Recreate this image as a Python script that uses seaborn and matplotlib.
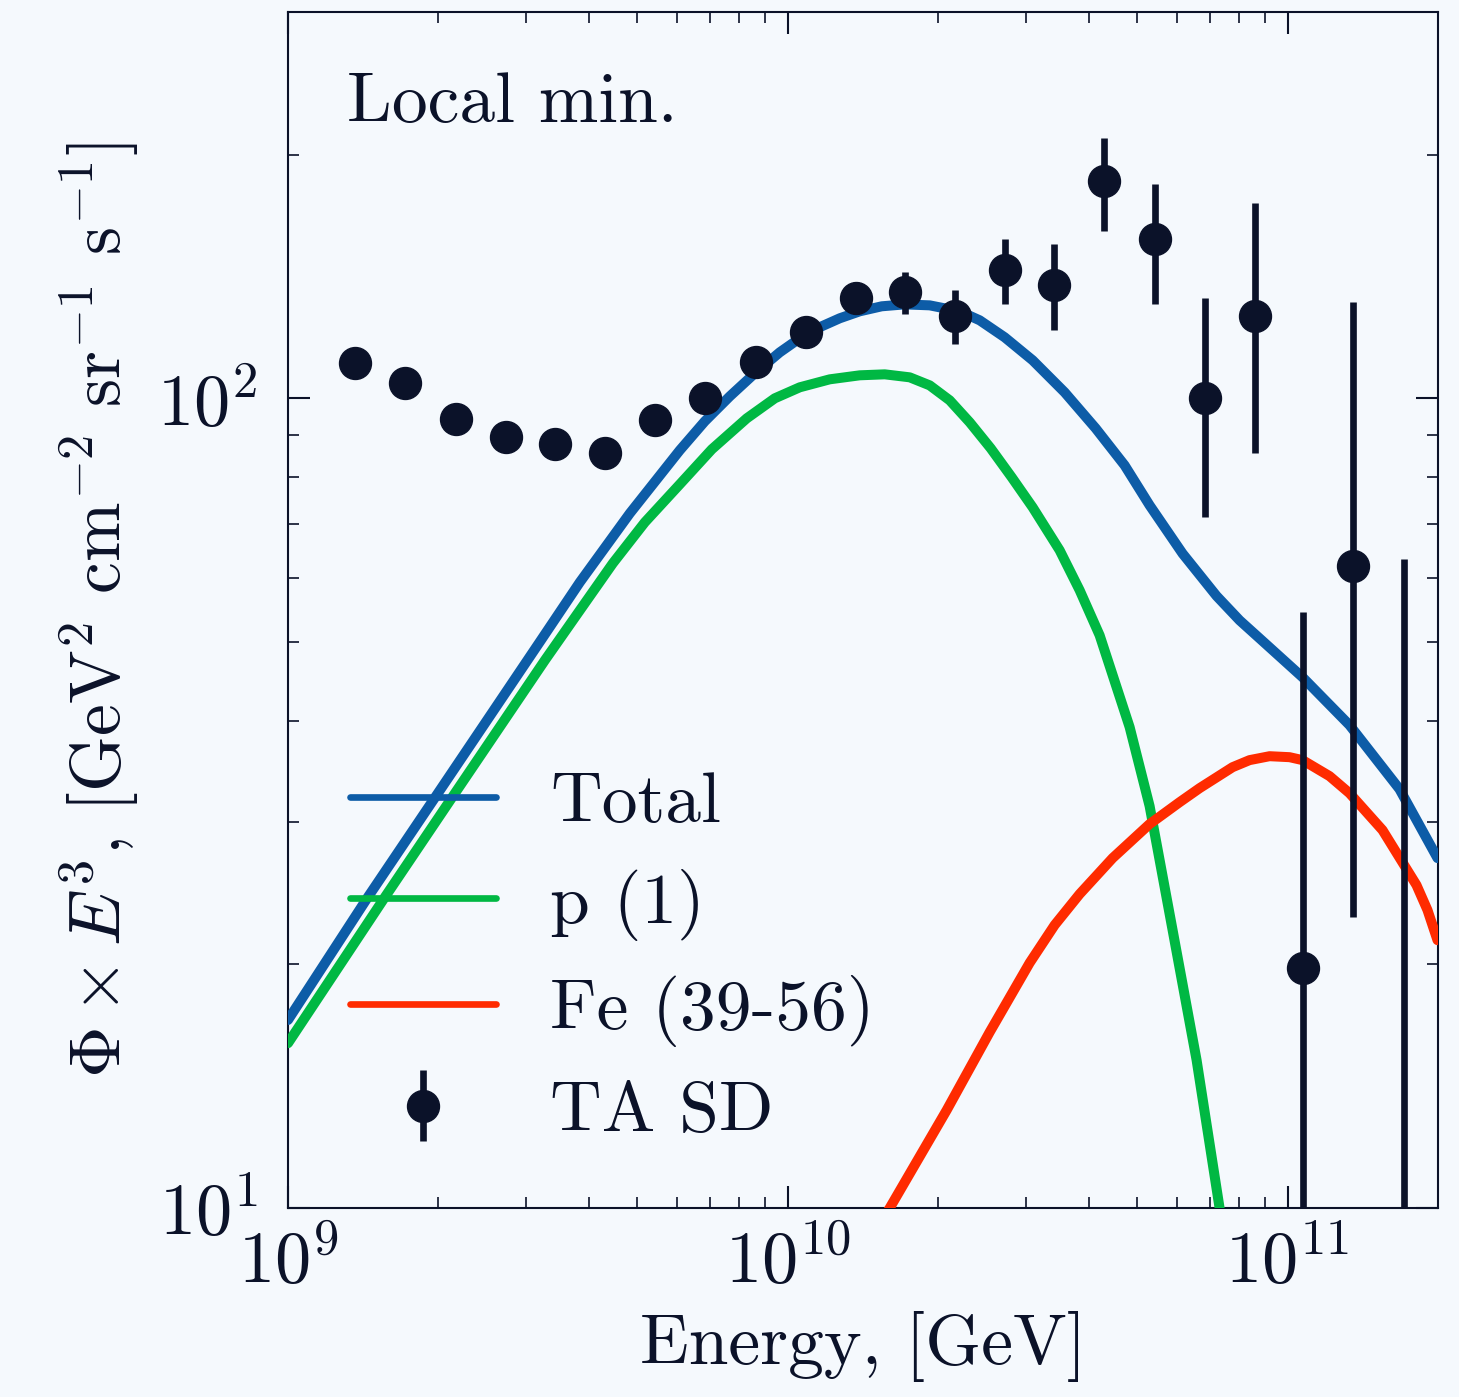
import matplotlib
matplotlib.use("Agg")
import numpy as np
import pandas as pd
import matplotlib.pyplot as plt
from matplotlib.ticker import NullFormatter
import seaborn as sns

# ---------------- data ----------------
# Model curves: energy [GeV] and Phi*E^3 [GeV^2 cm^-2 sr^-1 s^-1]
total_E = [1.000e9, 1.445e9, 1.995e9, 3.206e9, 3.837e9, 4.831e9, 6.081e9, 6.823e9,
           7.656e9, 8.590e9, 9.638e9, 1.0568e10, 1.1695e10, 1.2706e10, 1.3932e10,
           1.5417e10, 1.7140e10, 1.9231e10, 2.2080e10, 2.4210e10, 2.7164e10, 3.0903e10,
           3.5810e10, 4.1305e10, 4.7206e10, 5.2966e10, 6.1660e10, 7.2111e10, 8.0168e10,
           8.7902e10, 1.0715e11, 1.3305e11, 1.6749e11, 1.9953e11]
total_F = [17.07, 24.21, 32.53, 50.25, 59.28, 72.11, 86.27, 93.67,
           100.57, 107.37, 113.98, 118.62, 122.73, 125.56, 128.07,
           129.91, 130.62, 130.26, 128.07, 124.84, 118.95, 111.42,
           101.72, 91.83, 82.65, 73.77, 64.30, 57.00, 53.19,
           50.53, 45.24, 39.48, 32.91, 27.05]

proton_E = [1.000e9, 1.563e9, 2.158e9, 3.266e9, 3.837e9, 4.467e9, 5.176e9, 6.081e9,
            7.047e9, 8.279e9, 9.419e9, 1.0568e10, 1.2134e10, 1.3932e10, 1.5631e10,
            1.7539e10, 1.9231e10, 2.1086e10, 2.3121e10, 2.5468e10, 2.8054e10, 3.0903e10,
            3.4995e10, 3.8371e10, 4.2073e10, 4.8306e10, 5.2966e10, 5.8884e10, 6.5766e10,
            7.3114e10, 8.0168e10]
proton_F = [15.98, 24.21, 32.53, 47.48, 54.73, 62.56, 70.29, 78.31,
            86.50, 94.47, 100.0, 103.18, 105.55, 106.76, 107.06,
            106.15, 103.75, 99.43, 93.41, 86.76, 79.90, 73.34,
            64.91, 57.94, 50.97, 39.26, 31.36, 22.04, 15.23,
            10.0, 6.49]

iron_E = [1.4588e10, 1.5995e10, 2.0797e10, 2.5351e10, 3.0479e10, 3.4198e10, 3.8371e10,
          4.4668e10, 5.2966e10, 6.0814e10, 6.6681e10, 7.7625e10, 8.3946e10, 9.2045e10,
          1.0093e11, 1.0715e11, 1.2134e11, 1.3305e11, 1.5488e11, 1.8113e11, 1.9055e11,
          1.9953e11]
iron_F = [9.13, 10.0, 13.21, 16.49, 20.08, 22.36, 24.42,
          27.05, 29.80, 31.71, 33.00, 35.03, 35.74, 36.14,
          36.04, 35.74, 34.15, 32.53, 29.29, 25.05, 23.33,
          21.42]

# TA SD data points
ta_E = [1.3614e9, 1.7140e9, 2.1677e9, 2.7290e9, 3.4198e9, 4.3053e9, 5.4200e9, 6.8234e9,
        8.6298e9, 1.0864e10, 1.3677e10, 1.7140e10, 2.1577e10, 2.7164e10, 3.4041e10,
        4.2855e10, 5.4200e10, 6.8234e10, 8.5901e10, 1.0715e11, 1.3490e11, 1.7061e11]
ta_F = [110.5, 104.4, 94.2, 89.5, 87.8, 85.5, 93.9, 100.0,
        110.8, 120.6, 132.9, 135.3, 126.4, 143.9, 138.2,
        185.3, 157.1, 100.2, 126.5, 19.8, 62.1, 8.0]
ta_hi = [112.2, 106.0, 95.7, 91.0, 89.3, 87.0, 95.6, 102.0,
         113.3, 126.0, 139.2, 143.2, 135.9, 157.1, 155.2,
         209.8, 183.7, 133.1, 174.4, 54.5, 131.4, 63.3]
ta_lo = [108.8, 102.8, 92.7, 88.0, 86.3, 84.0, 92.2, 98.0,
         108.3, 115.5, 127.0, 127.0, 116.6, 130.6, 121.6,
         161.1, 130.6, 71.4, 85.6, 1.0, 22.9, 1.0]

labels = ["Total", "p (1)", "Fe (39-56)", "TA SD"]
x_ticks = [1e9, 1e10, 1e11]

# ---------------- style ----------------
BG = "#f5f9fd"
NAVY = "#0b1229"
C_TOT = "#0d5ca7"
C_P = "#00b843"
C_FE = "#ff2b00"
FS = 51.5

sns.set_theme(style="ticks")
plt.rcParams.update({
    "font.family": ["cmr10", "DejaVu Serif"],
    "mathtext.fontset": "cm",
    "axes.formatter.use_mathtext": True,
    "axes.unicode_minus": False,
    "text.color": NAVY,
    "axes.labelcolor": NAVY,
    "xtick.color": NAVY,
    "ytick.color": NAVY,
    "axes.edgecolor": NAVY,
})

fig = plt.figure(figsize=(14.59, 13.97), dpi=100, facecolor=BG)
ax = fig.add_axes([288 / 1459, 1 - 1208 / 1397, 1150 / 1459, 1196 / 1397])
ax.set_facecolor(BG)
ax.set_xscale("log")
ax.set_yscale("log")

df_tot = pd.DataFrame({"E": total_E, "F": total_F})
df_p = pd.DataFrame({"E": proton_E, "F": proton_F})
df_fe = pd.DataFrame({"E": iron_E, "F": iron_F})

for df, col, lab in [(df_tot, C_TOT, labels[0]), (df_p, C_P, labels[1]), (df_fe, C_FE, labels[2])]:
    sns.lineplot(data=df, x="E", y="F", color=col, lw=7.2, label=lab, ax=ax, zorder=3)
for ln in ax.get_lines():
    ln.set_solid_joinstyle("round")

ta_F_arr = np.array(ta_F)
yerr = [ta_F_arr - np.array(ta_lo), np.array(ta_hi) - ta_F_arr]
ax.errorbar(ta_E, ta_F, yerr=yerr, fmt="o", color=NAVY, ms=23, elinewidth=4.8,
            capsize=0, label=labels[3], zorder=5)

ax.set_xlim(1e9, 2e11)
ax.set_ylim(10, 300)
ax.set_xticks(x_ticks)
ax.yaxis.set_minor_formatter(NullFormatter())
ax.xaxis.set_minor_formatter(NullFormatter())

ax.tick_params(which="both", direction="in", top=True, right=True)
ax.tick_params(which="major", length=15.8, width=1.5, labelsize=52)
ax.tick_params(which="minor", length=8, width=1.2)
ax.tick_params(axis="x", which="major", pad=15)
ax.tick_params(axis="y", which="major", pad=22)
for s in ax.spines.values():
    s.set_linewidth(1.5)
    s.set_color(NAVY)

ax.set_xlabel("Energy, [GeV]", fontsize=FS, labelpad=10)
ax.set_ylabel(r"$\Phi\times E^3$, [GeV$^2$ cm$^{-2}$ sr$^{-1}$ s$^{-1}$]", fontsize=FS, labelpad=12)

ax.text(0.0513, 0.908, "Local min.", transform=ax.transAxes, fontsize=FS,
        va="baseline", ha="left", color=NAVY)

leg = ax.legend(loc="lower left", bbox_to_anchor=(0.054, 0.053), frameon=False,
                fontsize=FS, handlelength=2.04, handletextpad=0.76, labelspacing=0.47,
                borderpad=0, borderaxespad=0)
for h in leg.legend_handles[:3]:
    h.set_linewidth(4.8)

fig.savefig("out.png", dpi=100, facecolor=BG)
